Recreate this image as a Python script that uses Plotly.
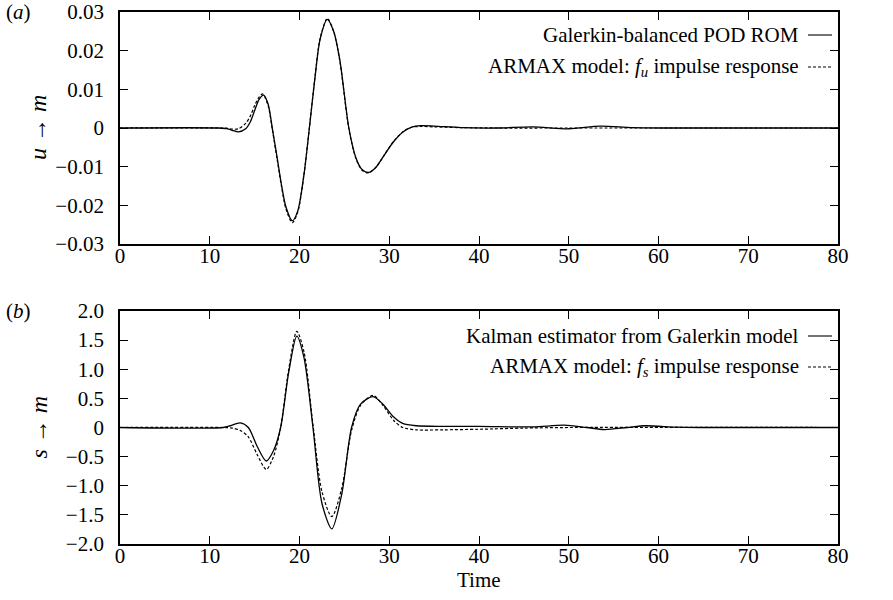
import plotly.graph_objects as go

# ---------------- data ----------------
# panel (a): u -> m
t_a_rom = [0, 11, 12, 12.5, 13.2, 14, 14.5, 15, 15.5, 16, 16.5, 17, 17.5, 18, 18.5, 19.2, 19.8, 20.5,
           21.1, 21.7, 22.3, 23.1, 23.8, 24.5, 25.5, 26.3, 27, 27.7, 28.5, 29.5, 30.5, 31.5, 32.5,
           33.5, 35, 38, 42, 46, 50, 53.5, 57, 61, 80]
u_rom = [0, 0, -0.0002, -0.0006, -0.001, -0.0002, 0.0015, 0.0045, 0.0074, 0.0085, 0.0062, -0.0005,
         -0.0075, -0.0148, -0.0205, -0.024, -0.0215, -0.012, 0.0, 0.0125, 0.023, 0.0281, 0.025,
         0.0175, 0.0, -0.0078, -0.0108, -0.0115, -0.0102, -0.0068, -0.0035, -0.0011, 0.0002,
         0.0006, 0.0005, 0.0001, 0.0, 0.0003, -0.0002, 0.0005, 0.0001, 0.0, 0.0]

t_a_armax = [0, 11, 12, 12.5, 13.2, 14, 14.5, 15, 15.5, 15.9, 16.5, 17, 17.5, 18, 18.5, 19.2, 19.8,
             20.5, 21.1, 21.7, 22.3, 23.1, 23.8, 24.5, 25.5, 26.3, 27, 27.7, 28.5, 29.5, 30.5,
             31.5, 32.5, 33.5, 35, 38, 42, 50, 80]
u_armax = [0, 0, -0.0001, -0.0003, -0.0002, 0.0012, 0.003, 0.0058, 0.008, 0.0088, 0.0058, -0.0008,
           -0.008, -0.0152, -0.021, -0.0245, -0.0218, -0.012, 0.0, 0.0127, 0.0232, 0.0283, 0.025,
           0.0172, -0.0002, -0.008, -0.011, -0.0116, -0.0102, -0.0068, -0.0034, -0.001, 0.0002,
           0.0004, 0.0003, 0.0001, 0.0, 0.0, 0.0]

# panel (b): s -> m
t_b_kalman = [0, 11.5, 12.3, 13.4, 14.3, 15.3, 16.3, 17.1, 17.9, 18.8, 19.7, 20.5, 21.5, 22.5, 23.6,
              24.7, 25.8, 26.8, 28.2, 29.3, 30.5, 31.5, 33, 36, 40, 46, 49.5, 52, 54, 56.5, 58.5,
              62, 65, 80]
s_kalman = [0, 0, 0.03, 0.08, 0.0, -0.33, -0.575, -0.4, 0.0, 0.95, 1.57, 1.2, 0.0, -1.3, -1.74,
            -1.15, 0.0, 0.4, 0.53, 0.4, 0.18, 0.07, 0.03, 0.02, 0.02, 0.01, 0.04, 0.0, -0.035,
            0.0, 0.03, 0.005, 0.0, 0.0]

t_b_armax = [0, 11.5, 12.5, 13.4, 14.3, 15.3, 16.3, 17.1, 17.9, 18.8, 19.7, 20.5, 21.5, 22.5, 23.6,
             24.7, 25.8, 26.8, 28.2, 29.3, 30.5, 31.5, 33, 36, 40, 45, 50, 80]
s_armax = [0, 0, -0.01, -0.05, -0.16, -0.47, -0.72, -0.5, 0.0, 1.0, 1.65, 1.3, 0.05, -1.1, -1.53,
           -1.05, -0.05, 0.38, 0.55, 0.38, 0.12, 0.0, -0.04, -0.04, -0.03, -0.01, 0.0, 0.0]

x_ticks = [0, 10, 20, 30, 40, 50, 60, 70, 80]
ya_tickvals = [-0.03, -0.02, -0.01, 0, 0.01, 0.02, 0.03]
ya_ticktext = ["\u22120.03", "\u22120.02", "\u22120.01", "0", "0.01", "0.02", "0.03"]
yb_tickvals = [-2.0, -1.5, -1.0, -0.5, 0, 0.5, 1.0, 1.5, 2.0]
yb_ticktext = ["\u22122.0", "\u22121.5", "\u22121.0", "\u22120.5", "0", "0.5", "1.0", "1.5", "2.0"]

legend_a = ["Galerkin-balanced POD ROM", "ARMAX model: <i>f<sub>u</sub></i> impulse response"]
legend_b = ["Kalman estimator from Galerkin model", "ARMAX model: <i>f<sub>s</sub></i> impulse response"]

# ---------------- figure ----------------
FONT = "Liberation Serif, Times New Roman, serif"
FS = 21
W, H = 893, 600
ML, MR, MT, MB = 120, 55, 12, 56

fig = go.Figure()
solid = dict(color="black", width=1.3, shape="spline", smoothing=0.8)
dashed = dict(color="black", width=1.2, dash="3px,2px", shape="spline", smoothing=0.8)

fig.add_trace(go.Scatter(x=t_a_rom, y=u_rom, mode="lines", line=solid, xaxis="x", yaxis="y"))
fig.add_trace(go.Scatter(x=t_a_armax, y=u_armax, mode="lines", line=dashed, xaxis="x", yaxis="y"))
fig.add_trace(go.Scatter(x=t_b_kalman, y=s_kalman, mode="lines", line=solid, xaxis="x2", yaxis="y2"))
fig.add_trace(go.Scatter(x=t_b_armax, y=s_armax, mode="lines", line=dashed, xaxis="x2", yaxis="y2"))

axis_common = dict(showline=True, linecolor="black", linewidth=1.8, mirror="allticks",
                   ticks="inside", ticklen=8, tickwidth=1.2, tickcolor="black",
                   showgrid=False, zeroline=False, automargin=False,
                   tickfont=dict(family=FONT, size=FS, color="black"))

ph = H - MT - MB
dom_a = [1 - 232 / ph, 1.0]
dom_b = [0.0, 233 / ph]

fig.update_layout(
    width=W, height=H,
    margin=dict(l=ML, r=MR, t=MT, b=MB, autoexpand=False),
    paper_bgcolor="white", plot_bgcolor="white",
    showlegend=False,
    font=dict(family=FONT, size=FS, color="black"),
    xaxis=dict(domain=[0, 1], anchor="y", range=[0, 80], tickvals=x_ticks, ticklabelstandoff=-8,
               **axis_common),
    yaxis=dict(domain=dom_a, anchor="x", range=[-0.03, 0.03], tickvals=ya_tickvals,
               ticktext=ya_ticktext, ticklabelstandoff=10, **axis_common),
    xaxis2=dict(domain=[0, 1], anchor="y2", range=[0, 80], tickvals=x_ticks, ticklabelstandoff=-8,
                **axis_common),
    yaxis2=dict(domain=dom_b, anchor="x2", range=[-2, 2], tickvals=yb_tickvals,
                ticktext=yb_ticktext, ticklabelstandoff=10, **axis_common),
)

pw = W - ML - MR
def px_x(p):
    return (p - ML) / pw

annots = []
# panel labels
annots.append(dict(text="(<i>a</i>)", xref="paper", yref="y domain", x=px_x(4), y=1.0,
                   xanchor="left", yanchor="middle", showarrow=False))
annots.append(dict(text="(<i>b</i>)", xref="paper", yref="y2 domain", x=px_x(4), y=1.0,
                   xanchor="left", yanchor="middle", showarrow=False))
# y titles
annots.append(dict(text="<i>u</i> \u2192 <i>m</i>", xref="paper", yref="y domain", x=px_x(38), y=0.5,
                   textangle=-90, xanchor="center", yanchor="middle", showarrow=False,
                   font=dict(family=FONT, size=24)))
annots.append(dict(text="<i>s</i> \u2192 <i>m</i>", xref="paper", yref="y2 domain", x=px_x(38), y=0.5,
                   textangle=-90, xanchor="center", yanchor="middle", showarrow=False,
                   font=dict(family=FONT, size=24)))
# x title
annots.append(dict(text="Time", xref="x2 domain", yref="paper", x=0.5, y=-(580 - (H - MB)) / ph,
                   xanchor="center", yanchor="middle", showarrow=False, borderpad=0))

shapes = []
rows_a = [1 - 23 / 232, 1 - 55 / 232]
rows_b = [1 - 25 / 233, 1 - 56 / 233]
txt_r = px_x(801)
l0, l1 = px_x(808), px_x(832)
for labels, rows, xd, yd in [(legend_a, rows_a, "x domain", "y domain"),
                              (legend_b, rows_b, "x2 domain", "y2 domain")]:
    for i, (lab, ry) in enumerate(zip(labels, rows)):
        annots.append(dict(text=lab, xref=xd, yref=yd, x=txt_r, y=ry, xanchor="right",
                           yanchor="middle", showarrow=False))
        shapes.append(dict(type="line", xref=xd, yref=yd, x0=l0, x1=l1, y0=ry, y1=ry,
                           line=dict(color="black", width=1.1,
                                     dash="solid" if i == 0 else "3px,2px")))

fig.update_layout(annotations=annots, shapes=shapes)
fig.write_html("out.html")
